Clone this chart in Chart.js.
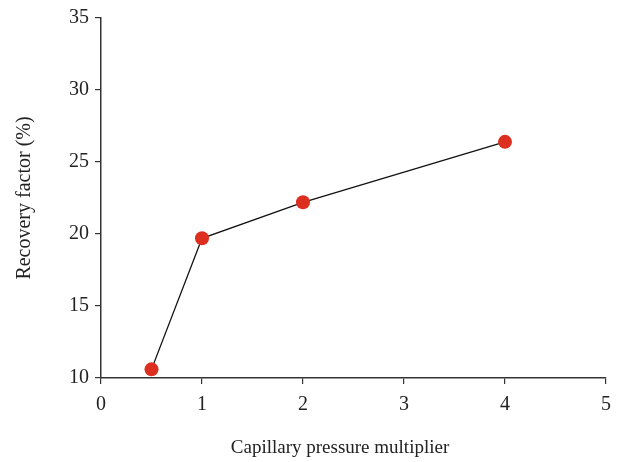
<!DOCTYPE html>
<html>
<head>
<meta charset="utf-8">
<script src="https://cdn.jsdelivr.net/npm/chart.js@4/dist/chart.umd.min.js"></script>
<style>
  html, body { margin: 0; padding: 0; background: #fff; }
  #wrap { position: relative; width: 623px; height: 462px; }
</style>
</head>
<body>
<div id="wrap"><canvas id="chart"></canvas></div>
<script>
// capillary pressure multiplier vs recovery factor
const multipliers = [0.5, 1, 2, 4];
const recovery = [10.6, 19.7, 22.2, 26.4];
const xTicks = [0, 1, 2, 3, 4, 5];
const yTicks = [10, 15, 20, 25, 30, 35];

const serif = "'Liberation Serif', 'DejaVu Serif', serif";
const axisColor = "#333";

// x axis title sits a bit left of the plot centre in the original
const xTitle = {
  id: "xTitle",
  afterDraw(chart) {
    const c = chart.ctx;
    c.save();
    c.font = "19px " + serif;
    c.fillStyle = "#222";
    c.textAlign = "center";
    c.textBaseline = "middle";
    c.fillText("Capillary pressure multiplier", 340, 448);
    c.restore();
  }
};

new Chart(document.getElementById("chart").getContext("2d"), {
  type: "scatter",
  data: {
    datasets: [{
      data: multipliers.map((x, i) => ({ x: x, y: recovery[i] })),
      showLine: true,
      borderColor: "#111",
      borderWidth: 1.3,
      pointRadius: 7,
      pointHoverRadius: 7,
      pointBackgroundColor: "#dc2f1f",
      pointBorderWidth: 0
    }]
  },
  options: {
    responsive: true,
    maintainAspectRatio: false,
    animation: false,
    layout: { padding: { top: 16, right: 17, left: 0, bottom: 0 } },
    plugins: { legend: { display: false }, tooltip: { enabled: false } },
    scales: {
      x: {
        type: "linear",
        min: 0, max: 5,
        afterBuildTicks: s => { s.ticks = xTicks.map(v => ({ value: v })); },
        afterFit: s => { s.height = 84; },
        grid: { drawOnChartArea: false, drawTicks: true, tickLength: 6, color: axisColor, lineWidth: 1.2 },
        border: { display: true, color: axisColor, width: 1.5 },
        ticks: { color: "#222", font: { family: serif, size: 20 }, padding: 9, maxRotation: 0 }
      },
      y: {
        min: 10, max: 35,
        afterBuildTicks: s => { s.ticks = yTicks.map(v => ({ value: v })); },
        afterFit: s => { s.width = 101; },
        grid: { drawOnChartArea: false, drawTicks: true, tickLength: 6, color: axisColor, lineWidth: 1.2 },
        border: { display: true, color: axisColor, width: 1.5 },
        ticks: { color: "#222", font: { family: serif, size: 20 }, padding: 6 },
        title: { display: true, text: "Recovery factor (%)", color: "#222", font: { family: serif, size: 20 }, padding: { top: 13, bottom: 0 } }
      }
    }
  },
  plugins: [xTitle]
});
</script>
</body>
</html>
